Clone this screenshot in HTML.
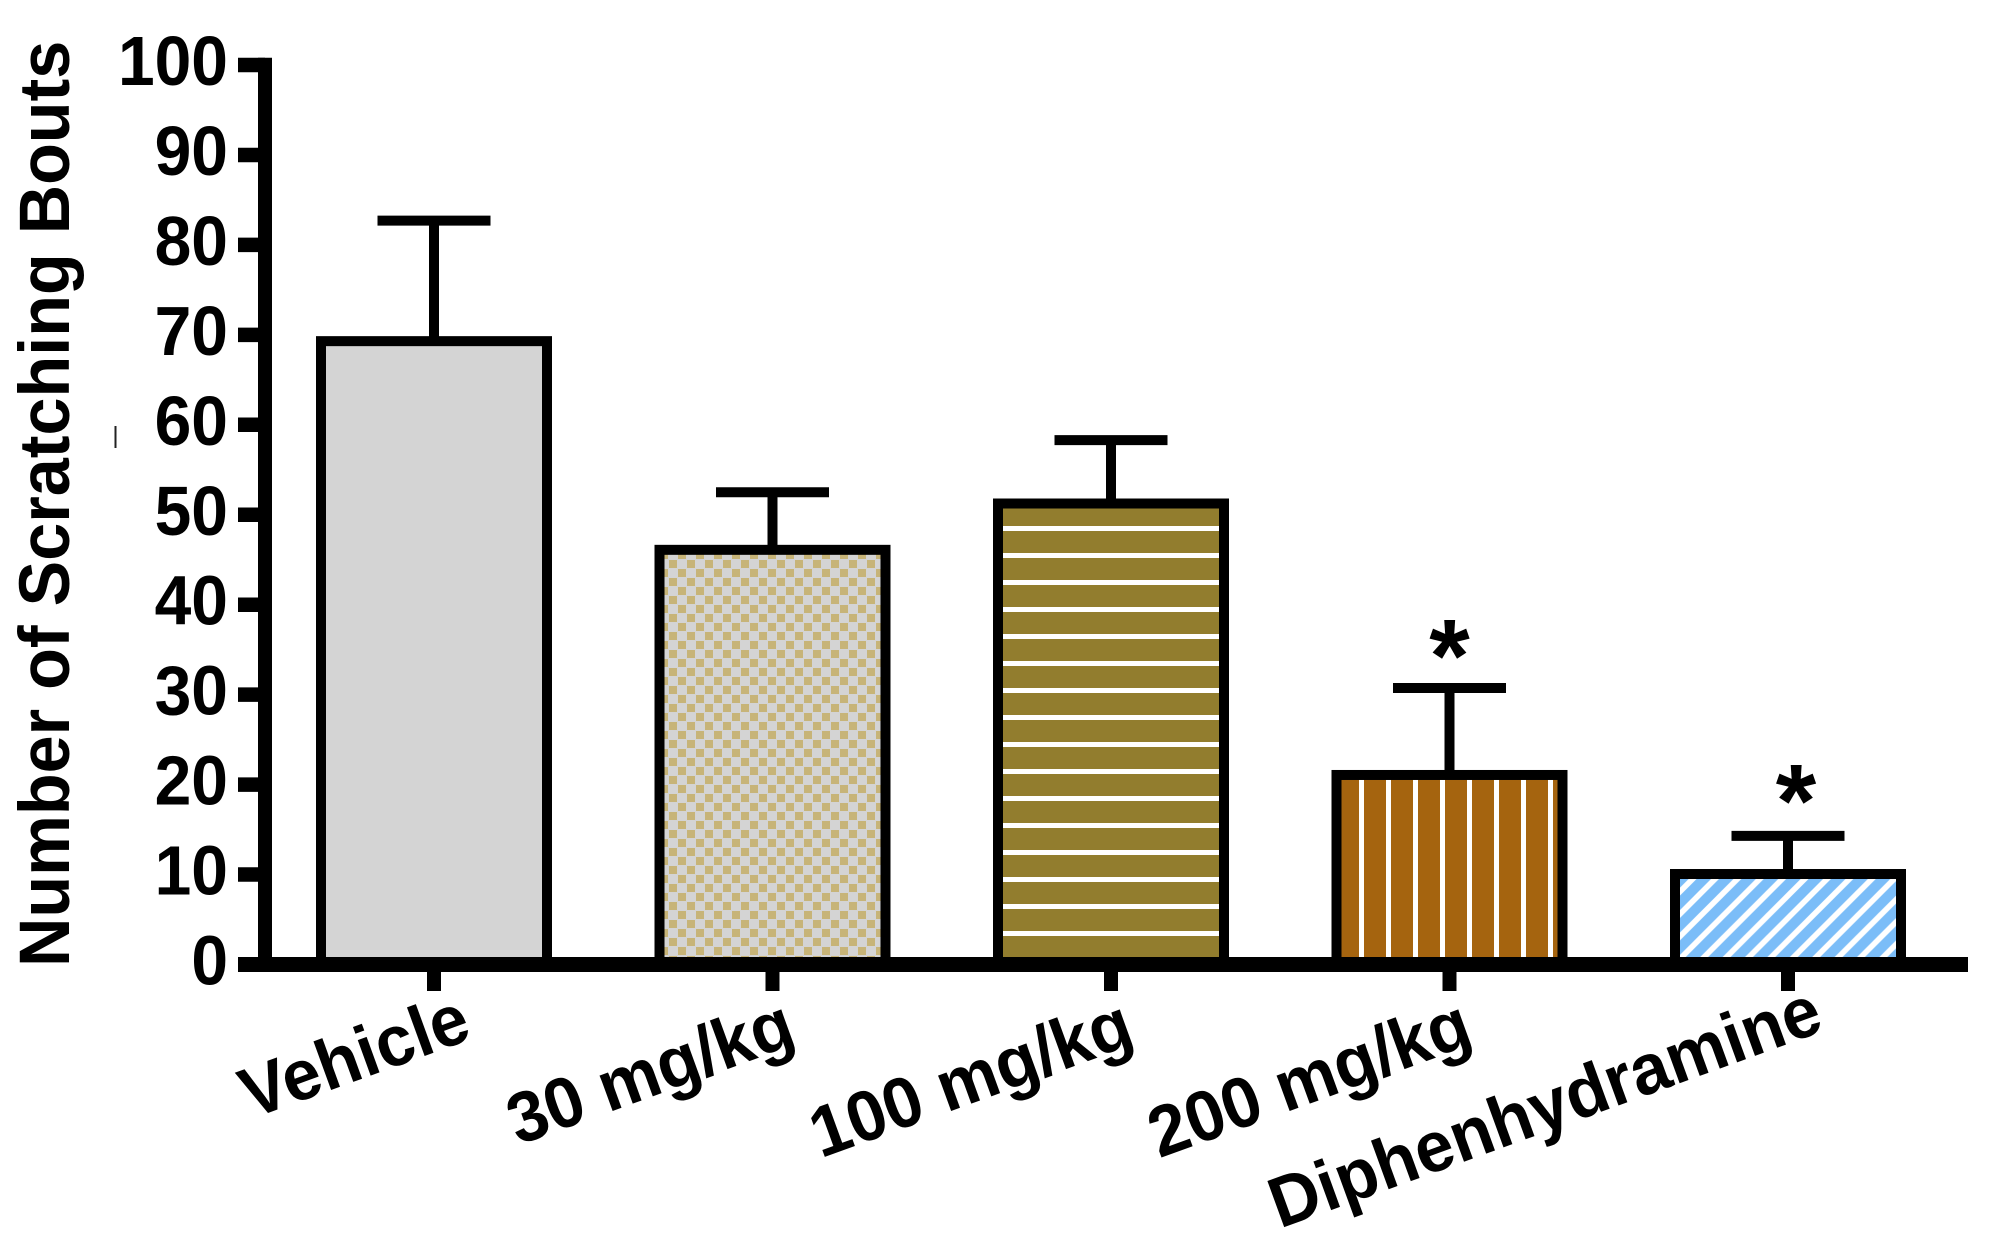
<!DOCTYPE html>
<html lang="en">
<head>
<meta charset="utf-8">
<title>Number of Scratching Bouts</title>
<style>
html,body{margin:0;padding:0;background:#fff;width:1991px;height:1241px;overflow:hidden}
svg{display:block}
text{font-family:"Liberation Sans",Arial,sans-serif;font-weight:700;fill:#000}
</style>
</head>
<body>
<svg id="chart" xmlns="http://www.w3.org/2000/svg" width="1991" height="1241" viewBox="0 0 1991 1241">
  <defs>
    <pattern id="fill-checker" patternUnits="userSpaceOnUse" x="669" y="560" width="18" height="18">
      <rect width="18" height="18" fill="#d4d4d4"/>
      <rect x="0" y="0" width="8" height="8" fill="#c7b478"/>
      <rect x="9" y="9" width="8" height="8" fill="#c7b478"/>
    </pattern>
    <pattern id="fill-hlines" patternUnits="userSpaceOnUse" x="0" y="526" width="27" height="27">
      <rect width="27" height="27" fill="#927d2e"/>
      <rect width="27" height="5" fill="#fff"/>
    </pattern>
    <pattern id="fill-vlines" patternUnits="userSpaceOnUse" x="1359" y="0" width="27" height="27">
      <rect width="27" height="27" fill="#a5640f"/>
      <rect width="5" height="27" fill="#fff"/>
    </pattern>
    <pattern id="fill-diag" patternUnits="userSpaceOnUse" x="18" y="0" width="22.4" height="22.4">
      <rect width="22.4" height="22.4" fill="#7bbdf8"/>
      <path d="M-5.6,28 L28,-5.6 M-5.6,5.6 L5.6,-5.6 M16.8,28 L28,16.8" stroke="#fff" stroke-width="5.6" fill="none"/>
    </pattern>
  </defs>
  <rect width="1991" height="1241" fill="#fff"/>
  <rect x="114.5" y="426" width="2" height="22" fill="#222"/>
  <g id="marks"></g>
  <g id="axes"></g>
  <text transform="translate(69,967) rotate(-90) scale(1.005,1.05)" font-size="68">Number of Scratching Bouts</text>
</svg>
<script>
const categories = ['Vehicle', '30 mg/kg', '100 mg/kg', '200 mg/kg', 'Diphenhydramine'];
const means = [69.3, 46.1, 51.25, 21.07, 10.06];
const errors = [13.4, 6.4, 7.05, 9.67, 4.24];
const significance = ['', '', '', '*', '*'];
const fills = ['#d4d4d4', 'url(#fill-checker)', 'url(#fill-hlines)', 'url(#fill-vlines)', 'url(#fill-diag)'];
const yTicks = [0, 10, 20, 30, 40, 50, 60, 70, 80, 90, 100];

const NS = 'http://www.w3.org/2000/svg';
const marks = document.getElementById('marks');
const axes = document.getElementById('axes');
const yOf = v => 964.5 - v * 8.995;
const xOf = i => 434 + i * 338.5;
const barHalf = 113;
const capHalf = 56.5;

function make(tag, parent, attrs) {
  const el = document.createElementNS(NS, tag);
  for (const k in attrs) el.setAttribute(k, attrs[k]);
  parent.appendChild(el);
  return el;
}

categories.forEach((name, i) => {
  const x = xOf(i);
  const top = yOf(means[i]);
  const errTop = yOf(means[i] + errors[i]);

  const stem = make('line', marks, {x1: x, x2: x, y1: errTop, y2: top, stroke: '#000', 'stroke-width': 10});
  
  

  const cap = make('line', marks, {x1: x - capHalf, x2: x + capHalf, y1: errTop, y2: errTop, stroke: '#000', 'stroke-width': 10});
  
  

  const bar = make('rect', marks, {x: x - barHalf, y: top, width: barHalf * 2, height: yOf(0) - top, fill: fills[i], stroke: '#000', 'stroke-width': 10});
  
  

  if (significance[i]) {
    const star = make('text', marks, {x: x + (i === 4 ? 8 : 0), y: errTop + (i === 4 ? 0.5 : 3.5), 'font-size': 104, 'text-anchor': 'middle'});
    star.textContent = significance[i];
    
    
  }

  const tick = make('line', axes, {x1: x, x2: x, y1: yOf(0), y2: 991, stroke: '#000', 'stroke-width': 14});
  
  

  const isUnit = name.endsWith('g');
  const shiftX = isUnit ? -10 : (i === 0 ? 4 : 2);
  const shiftY = isUnit ? 9.3 : (i === 0 ? 4 : -4);
  const label = make('text', axes, {'font-size': 68, 'text-anchor': 'end', transform: 'translate(' + (x + 36 + shiftX) + ',' + (1034 + shiftY) + ') rotate(-20) scale(1.012,1.05)'});
  label.textContent = name;
  
  
});

yTicks.forEach(v => {
  const y = yOf(v);
  const tick = make('line', axes, {x1: 238, x2: 265, y1: y, y2: y, stroke: '#000', 'stroke-width': 14.5});
  
  

  const label = make('text', axes, {'font-size': 68, 'text-anchor': 'end', transform: 'translate(228,' + (y + 20) + ') scale(0.97,1.02)'});
  label.textContent = String(v);
  
  
});

const yAxis = make('line', axes, {x1: 265, x2: 265, y1: yOf(100) - 7.25, y2: yOf(0) + 7.25, stroke: '#000', 'stroke-width': 14});



const xAxis = make('line', axes, {x1: 238, x2: 1968, y1: yOf(0), y2: yOf(0), stroke: '#000', 'stroke-width': 15});


</script>
</body>
</html>
